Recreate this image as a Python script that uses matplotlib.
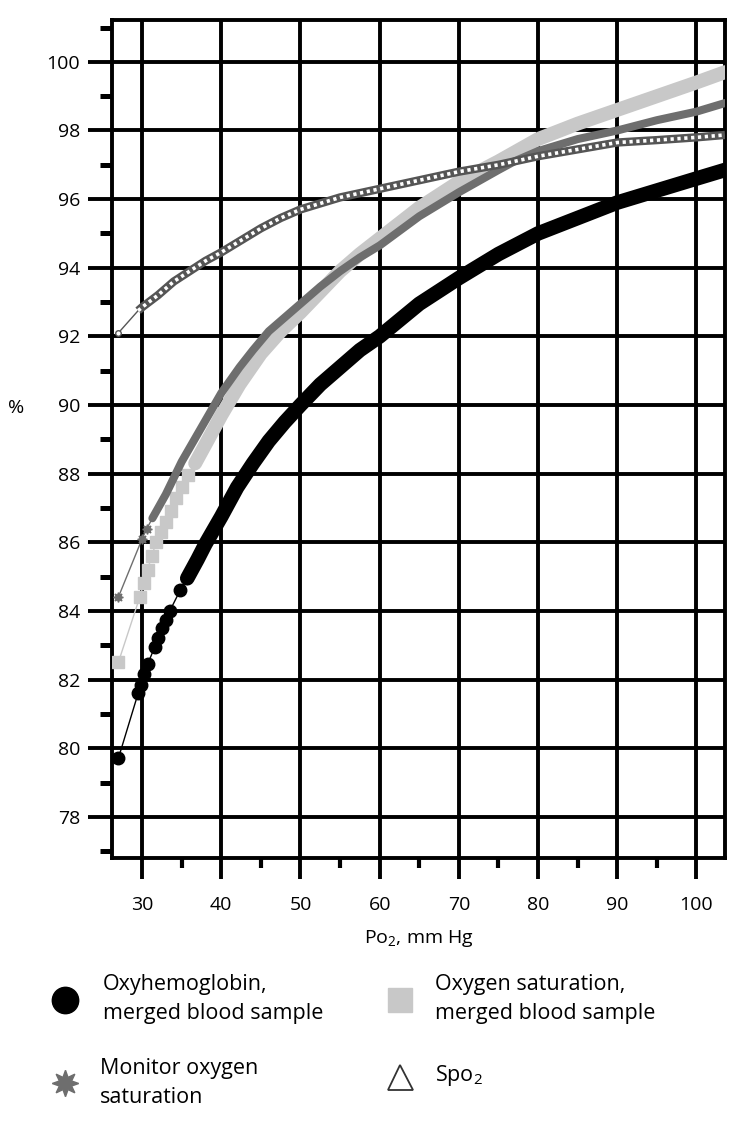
import matplotlib
matplotlib.use("Agg")
import matplotlib.pyplot as plt
from matplotlib.ticker import MultipleLocator

plt.rcParams['font.family'] = ['Open Sans', 'DejaVu Sans']
plt.rcParams['mathtext.fontset'] = 'custom'
plt.rcParams['mathtext.rm'] = 'Open Sans'
plt.rcParams['mathtext.default'] = 'regular'

# Oxyhemoglobin, merged blood sample (black dots)
oxy_x = [27, 29.5, 29.9, 30.3, 30.7, 31.6, 32.0, 32.5, 33.0, 33.5, 34.8,
         35.7, 37, 38, 39, 40, 42, 44, 46, 48, 50, 52.5, 55, 57.5, 60, 65, 70, 75, 80, 85, 90, 95, 100, 103.6]
oxy_y = [79.7, 81.6, 81.85, 82.15, 82.45, 82.95, 83.2, 83.5, 83.75, 84.0, 84.6,
         84.95, 85.5, 85.95, 86.35, 86.75, 87.6, 88.3, 88.95, 89.5, 90.0, 90.6, 91.1, 91.6, 92.0, 92.95, 93.7,
         94.4, 95.0, 95.45, 95.9, 96.25, 96.6, 96.85]
oxy_pts = 11

# Oxygen saturation, merged blood sample (light grey squares)
sat_x = [27, 29.7, 30.2, 30.7, 31.2, 31.8, 32.4, 33.0, 33.7, 34.3, 35.0, 35.8,
         36.7, 38, 40, 42.3, 45, 47.5, 50, 52.5, 55, 57.5, 60, 65, 70, 75, 80, 85, 90, 95, 100, 103.6]
sat_y = [82.5, 84.4, 84.8, 85.2, 85.6, 86.0, 86.3, 86.6, 86.9, 87.3, 87.6, 87.95,
         88.3, 88.85, 89.7, 90.6, 91.5, 92.15, 92.7, 93.3, 93.9, 94.4, 94.85, 95.75, 96.5, 97.1, 97.75,
         98.2, 98.6, 99.0, 99.4, 99.7]
sat_pts = 12

# Monitor oxygen saturation (dark grey asterisks)
mon_x = [27, 30, 30.6, 31.3, 33, 35, 37, 38.5, 40, 42.3, 44, 46, 48, 50, 52.5, 55, 57.5, 60, 65, 70, 75,
         77, 80, 85, 90, 95, 100, 103.6]
mon_y = [84.4, 86.1, 86.4, 86.7, 87.4, 88.35, 89.15, 89.75, 90.35, 91.1, 91.6, 92.15, 92.55, 92.95, 93.45,
         93.9, 94.3, 94.65, 95.5, 96.2, 96.85, 97.1, 97.4, 97.75, 98.0, 98.3, 98.55, 98.8]
mon_pts = 3

# SpO2 (open triangles)
spo_x = [27, 29.5, 30, 32, 34, 36, 38, 40, 42.5, 45, 47.5, 50, 55, 60, 65, 70, 75, 80, 85, 90, 95, 100, 103.6]
spo_y = [92.1, 92.75, 92.85, 93.2, 93.6, 93.9, 94.2, 94.45, 94.8, 95.15, 95.45, 95.7, 96.05, 96.3, 96.55,
         96.8, 97.0, 97.25, 97.45, 97.65, 97.72, 97.8, 97.87]

legend_labels = ["Oxyhemoglobin,\nmerged blood sample", "Oxygen saturation,\nmerged blood sample",
                 "Monitor oxygen\nsaturation", "Spo$_2$"]

black = '#000000'
light = '#c8c8c8'
dark = '#6e6e6e'
ring = '#555555'

fig = plt.figure(figsize=(7.5, 11.3), dpi=100)
ax = fig.add_axes([112 / 750, 1 - 858 / 1130, 613 / 750, 838 / 1130])

ax.set_xlim(26.2, 103.6)
ax.set_ylim(76.8, 101.22)


def draw_series(x, y, n_pts, color, lw, marker, ms, z):
    # thin joining line, single markers at the start, then the solid band
    ax.plot(x[:n_pts + 1], y[:n_pts + 1], color=color, lw=1.0, zorder=z)
    ax.plot(x[:n_pts], y[:n_pts], ls='none', marker=marker, ms=ms, color=color, zorder=z)
    ax.plot(x[n_pts:], y[n_pts:], color=color, lw=lw, solid_capstyle='round',
            solid_joinstyle='round', zorder=z)


draw_series(oxy_x, oxy_y, oxy_pts, black, 10.5, 'o', 9, 3)
draw_series(sat_x, sat_y, sat_pts, light, 10, 's', 8.5, 4)
draw_series(mon_x, mon_y, mon_pts, dark, 5.8, (8, 1, 0), 7, 5)

# SpO2 drawn as a chain of small open rings
ax.plot(spo_x[:2], spo_y[:2], color=ring, lw=1.0, zorder=6)
ax.plot(spo_x[:1], spo_y[:1], ls='none', marker='o', ms=4, mfc='white', mec=ring, mew=1, zorder=6)
ax.plot(spo_x[1:], spo_y[1:], color=ring, lw=6, solid_capstyle='butt', solid_joinstyle='round', zorder=6)
ax.plot(spo_x[1:], spo_y[1:], color='white', lw=2.6, ls=(0, (0.9, 1.0)), zorder=7)

# axes styling
ax.xaxis.set_minor_locator(MultipleLocator(5))
ax.yaxis.set_minor_locator(MultipleLocator(1))
ax.set_xticks(range(30, 101, 10))
ax.set_yticks(range(78, 101, 2))
ax.grid(True, which='major', color='black', lw=2.8, zorder=1)
ax.set_axisbelow(True)
for s in ax.spines.values():
    s.set_linewidth(2.8)
ax.tick_params(which='major', width=2.8, labelsize=14, color='black')
ax.tick_params(axis='x', which='major', length=15, pad=12)
ax.tick_params(axis='y', which='major', length=17, pad=6)
ax.tick_params(which='minor', length=8.5, width=3.6)
ax.tick_params(axis='x', which='minor', length=7.5, width=3.0)

ax.set_xlabel('Po$_2$, mm Hg', fontsize=14)
ax.xaxis.set_label_coords(0.5, -0.084)
ax.set_ylabel('%', fontsize=14, rotation=0, ha='center', va='center')
ax.yaxis.set_label_coords(-0.157, 0.537)

# legend drawn in figure pixel space
lg = fig.add_axes([0, 0, 1, 1])
lg.set_xlim(0, 750)
lg.set_ylim(1130, 0)
lg.axis('off')
lg.plot([65], [1000], 'o', ms=19, color=black)
lg.plot([400], [1000], 's', ms=17, color=light)
lg.plot([65], [1083], marker=(8, 1, 0), ls='none', ms=19, color=dark)
lg.plot([400], [1077], '^', ms=18, mfc='white', mec='#333333', mew=1.3)
tx = dict(fontsize=15.5, va='center', ha='left', linespacing=1.55)
lg.text(103, 999, legend_labels[0], **tx)
lg.text(435, 999, legend_labels[1], **tx)
lg.text(100, 1083, legend_labels[2], **tx)
lg.text(435, 1075, legend_labels[3], **tx)

fig.savefig('out.png', dpi=100)
